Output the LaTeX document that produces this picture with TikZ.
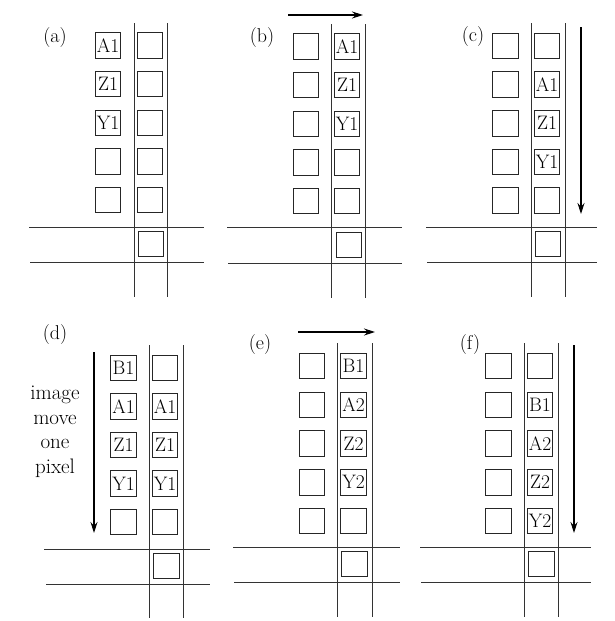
\documentclass[tikz,border=0pt]{standalone}
\usetikzlibrary{arrows.meta}
\begin{document}
\begin{tikzpicture}[x=1pt,y=-1pt,
  cell/.style={draw=black!85,line width=0.9pt,minimum width=25.5pt,minimum height=25.5pt,inner sep=0pt,
    font=\fontsize{19.5}{20}\selectfont},
  rail/.style={draw=black!80,line width=0.9pt},
  tag/.style={font=\fontsize{20}{22}\selectfont,inner sep=0pt},
  mv/.style={line width=1.1pt,-{Stealth[length=11pt,width=7pt]}}]
\useasboundingbox (0,0) rectangle (615,621);
% panel (a)
\draw[rail] (134,23) -- (134,297); \draw[rail] (167,23) -- (167,297);
\draw[rail] (29,227) -- (204,227); \draw[rail] (30,262) -- (204,262);
\foreach \i/\t in {0/A1,1/Z1,2/Y1,3/,4/} \node[cell] (aL\i) at (108,45.5+38.6*\i) {\t};
\foreach \i in {0,...,4} \node[cell] (aR\i) at (150,45.5+38.6*\i) {};
\node[cell] (aB) at (151,244) {};
\node[tag] (la) at (55,38) {(a)};
% panel (b)
\draw[rail] (331,24) -- (331,298); \draw[rail] (365,24) -- (365,298);
\draw[rail] (227,227) -- (402,227); \draw[rail] (228,263) -- (402,263);
\foreach \i in {0,...,4} \node[cell] (bL\i) at (306,46.5+38.6*\i) {};
\foreach \i/\t in {0/A1,1/Z1,2/Y1,3/,4/} \node[cell] (bR\i) at (347,46.5+38.6*\i) {\t};
\node[cell] (bB) at (349,245) {};
\node[tag] (lb) at (262,38) {(b)};
\coordinate (b0) at (288,15); \coordinate (b1) at (363,15);
\draw[mv] (b0) -- (b1);
% panel (c)
\draw[rail] (531,23) -- (531,297); \draw[rail] (565,23) -- (565,297);
\draw[rail] (426,227) -- (597,227); \draw[rail] (427,262) -- (597,262);
\foreach \i in {0,...,4} \node[cell] (cL\i) at (505.5,46+38.6*\i) {};
\foreach \i/\t in {0/,1/A1,2/Z1,3/Y1,4/} \node[cell] (cR\i) at (547,46+38.6*\i) {\t};
\node[cell] (cB) at (548,244) {};
\node[tag] (lc) at (473,37) {(c)};
\coordinate (c0) at (581,27); \coordinate (c1) at (581,214);
\draw[mv] (c0) -- (c1);
% panel (d)
\draw[rail] (149,345) -- (149,618); \draw[rail] (183,345) -- (183,618);
\draw[rail] (44,549) -- (210,549); \draw[rail] (46,584) -- (210,584);
\foreach \i/\t in {0/B1,1/A1,2/Z1,3/Y1,4/} \node[cell] (dL\i) at (123.5,368+38.5*\i) {\t};
\foreach \i/\t in {0/,1/A1,2/Z1,3/Y1,4/} \node[cell] (dR\i) at (165,368+38.5*\i) {\t};
\node[cell] (dB) at (166.5,566) {};
\node[tag] (ld) at (55,335) {(d)};
\coordinate (d0) at (94,352); \coordinate (d1) at (94,533);
\draw[mv] (d0) -- (d1);
\node[tag,align=center,font=\fontsize{21}{24.5}\selectfont] (dtxt) at (55,432) {image\\move\\one\\pixel};
% panel (e)
\draw[rail] (337,343) -- (337,617); \draw[rail] (372,343) -- (372,617);
\draw[rail] (233,547) -- (400,547); \draw[rail] (234,582) -- (400,582);
\foreach \i in {0,...,4} \node[cell] (eL\i) at (312,366+38.75*\i) {};
\foreach \i/\t in {0/B1,1/A2,2/Z2,3/Y2,4/} \node[cell] (eR\i) at (353.5,366+38.75*\i) {\t};
\node[cell] (eB) at (354.5,564) {};
\node[tag] (le) at (260,345) {(e)};
\coordinate (e0) at (298,332); \coordinate (e1) at (375,332);
\draw[mv] (e0) -- (e1);
% panel (f)
\draw[rail] (524,343) -- (524,617); \draw[rail] (558,343) -- (558,617);
\draw[rail] (420,547) -- (591,547); \draw[rail] (421,582) -- (591,582);
\foreach \i in {0,...,4} \node[cell] (fL\i) at (498.5,366+38.75*\i) {};
\foreach \i/\t in {0/,1/B1,2/A2,3/Z2,4/Y2} \node[cell] (fR\i) at (540,366+38.75*\i) {\t};
\node[cell] (fB) at (541.5,564) {};
\node[tag] (lf) at (470,345) {(f)};
\coordinate (f0) at (574,345); \coordinate (f1) at (574,533);
\draw[mv] (f0) -- (f1);
\end{tikzpicture}
\end{document}
